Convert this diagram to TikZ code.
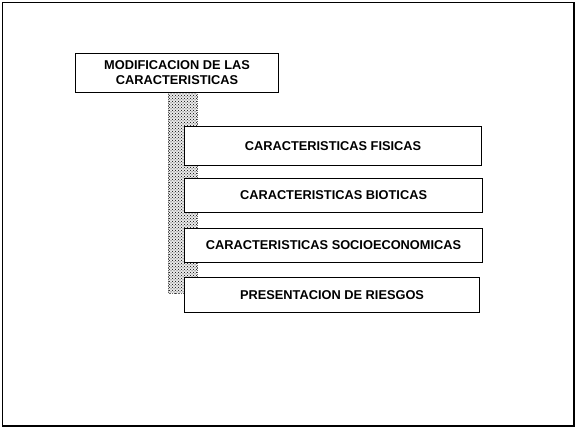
\documentclass[tikz,border=0pt]{standalone}
\usepackage{fontspec}
\setsansfont{Liberation Sans}
\usetikzlibrary{patterns}
\tikzset{
  box/.style={draw=black, line width=1.1pt, fill=white, anchor=north west, inner sep=0pt,
    align=center, font=\sffamily\bfseries\fontsize{12.8}{15}\selectfont},
  hatchbar/.style={pattern=crosshatch dots, pattern color=black},
}
\begin{document}
\begin{tikzpicture}[x=1pt,y=-1pt]
\useasboundingbox (0,0) rectangle (578,430);
\draw[line width=1.7pt] (2.5,2.5) rectangle (574,426);
% shaded spine
\coordinate (barTL) at (168,92);
\coordinate (barBR) at (197,293);
\fill[black!8] (barTL) rectangle (barBR);
\fill[hatchbar] (barTL) rectangle (barBR);
\draw[black!60, densely dotted, line width=0.8pt] (barTL) rectangle (barBR);
% boxes
\node[box, minimum width=203pt, minimum height=39pt] (top) at (75,53) {MODIFICACION DE LAS\\CARACTERISTICAS};
\node[box, minimum width=297pt, minimum height=39pt] (fis) at (184,126) {CARACTERISTICAS FISICAS};
\node[box, minimum width=298pt, minimum height=34pt] (bio) at (184,178) {CARACTERISTICAS BIOTICAS};
\node[box, minimum width=298pt, minimum height=34pt] (soc) at (184,228) {CARACTERISTICAS SOCIOECONOMICAS};
\node[box, minimum width=295pt, minimum height=35pt] (rie) at (184,277) {PRESENTACION DE RIESGOS};
\end{tikzpicture}
\end{document}
